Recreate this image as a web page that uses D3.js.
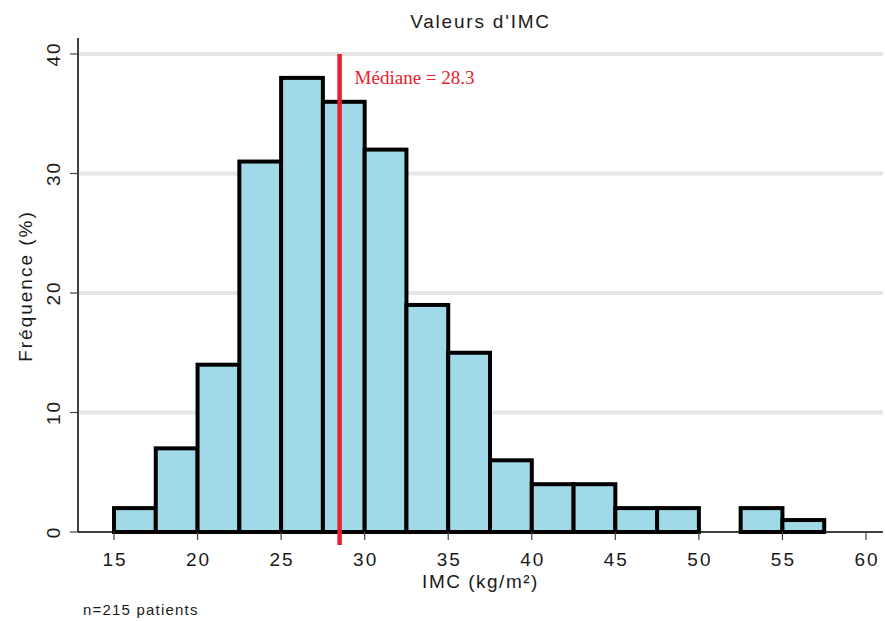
<!DOCTYPE html>
<html>
<head>
<meta charset="utf-8">
<title>Valeurs d'IMC</title>
<script src="https://cdn.jsdelivr.net/npm/d3@7"></script>
<style>
    body { margin: 0; background: #fff; }
    svg { display: block; }
    .sans { font-family: "Liberation Sans", Arial, sans-serif; fill: #1a1a1a; }
</style>
</head>
<body>
<div id="chartdiv"></div>
<script>
/*global d3 */

var binStarts = [15, 17.5, 20, 22.5, 25, 27.5, 30, 32.5, 35, 37.5, 40, 42.5,
                 45, 47.5, 50, 52.5, 55],
    binCounts = [2, 7, 14, 31, 38, 36, 32, 19, 15, 6, 4, 4, 2, 2, 0, 2, 1],
    binWidth = 2.5,
    xTicks = [15, 20, 25, 30, 35, 40, 45, 50, 55, 60],
    yTicks = [0, 10, 20, 30, 40],
    medianPos = 28.5,
    medianLabel = "Médiane = 28.3",
    titleText = "Valeurs d'IMC",
    xLabel = "IMC (kg/m²)",
    yLabel = "Fréquence (%)",
    noteText = "n=215 patients";

var app = (function () {
    "use strict";

    var chart = {},
        box = {left: 78, right: 883, top: 38, bottom: 532},
        colors = {bar: "#a0dae9", grid: "#e6e6e6", median: "#e8212c",
                  tick: "#444"};


    function makeScales () {
        chart.x = d3.scaleLinear().domain([15, 60]).range([114, 866]);
        chart.y = d3.scaleLinear().domain([0, 40]).range([box.bottom, 54]);
    }


    function drawGrid () {
        chart.svg.append("g").selectAll("line")
            .data(yTicks.filter(function (t) { return t > 0; }))
            .join("line")
            .attr("x1", box.left).attr("x2", box.right)
            .attr("y1", function (d) { return chart.y(d); })
            .attr("y2", function (d) { return chart.y(d); })
            .attr("stroke", colors.grid)
            .attr("stroke-width", 4);
    }


    function drawBars () {
        var bins = binStarts.map(function (b, i) {
            return {x0: b, x1: b + binWidth, n: binCounts[i]}; });
        chart.svg.append("g").selectAll("rect")
            .data(bins.filter(function (d) { return d.n > 0; }))
            .join("rect")
            .attr("x", function (d) { return chart.x(d.x0); })
            .attr("width", function (d) { return chart.x(d.x1) - chart.x(d.x0); })
            .attr("y", function (d) { return chart.y(d.n); })
            .attr("height", function (d) { return chart.y(0) - chart.y(d.n); })
            .attr("fill", colors.bar)
            .attr("stroke", "#000")
            .attr("stroke-width", 4);
    }


    function drawAxes () {
        var g = chart.svg.append("g");
        g.append("line")  //y axis
            .attr("x1", box.left).attr("x2", box.left)
            .attr("y1", box.top).attr("y2", box.bottom)
            .attr("stroke", "#000").attr("stroke-width", 1.5);
        g.append("line")  //x axis
            .attr("x1", box.left).attr("x2", box.right)
            .attr("y1", box.bottom).attr("y2", box.bottom)
            .attr("stroke", "#000").attr("stroke-width", 1.5);
        g.selectAll(".ytick").data(yTicks).join("line")
            .attr("class", "ytick")
            .attr("x1", box.left - 8).attr("x2", box.left)
            .attr("y1", function (d) { return chart.y(d); })
            .attr("y2", function (d) { return chart.y(d); })
            .attr("stroke", colors.tick).attr("stroke-width", 1.2);
        g.selectAll(".ylab").data(yTicks).join("text")
            .attr("class", "ylab sans")
            .attr("transform", function (d) {
                return "translate(60," + chart.y(d) + ") rotate(-90)"; })
            .attr("text-anchor", "middle")
            .attr("font-size", 19)
            .attr("letter-spacing", 2)
            .text(function (d) { return d; });
        g.selectAll(".xtick").data(xTicks).join("line")
            .attr("class", "xtick")
            .attr("x1", function (d) { return chart.x(d); })
            .attr("x2", function (d) { return chart.x(d); })
            .attr("y1", box.bottom).attr("y2", box.bottom + 8)
            .attr("stroke", colors.tick).attr("stroke-width", 1.2);
        g.selectAll(".xlab").data(xTicks).join("text")
            .attr("class", "xlab sans")
            .attr("x", function (d) { return chart.x(d) + 1; })
            .attr("y", 566)
            .attr("text-anchor", "middle")
            .attr("font-size", 19)
            .attr("letter-spacing", 2)
            .text(function (d) { return d; });
    }


    function drawMedian () {
        chart.svg.append("line")
            .attr("x1", chart.x(medianPos)).attr("x2", chart.x(medianPos))
            .attr("y1", chart.y(40)).attr("y2", chart.y(0) + 13)
            .attr("stroke", colors.median)
            .attr("stroke-width", 4.5);
        chart.svg.append("text")
            .attr("x", chart.x(medianPos) + 15)
            .attr("y", chart.y(40) + 30)
            .attr("font-family", "'Liberation Serif', 'Times New Roman', serif")
            .attr("font-size", 19)
            .attr("fill", colors.median)
            .text(medianLabel);
    }


    function drawLabels () {
        var cx = (box.left + box.right) / 2;
        chart.svg.append("text")
            .attr("class", "sans")
            .attr("x", cx).attr("y", 28)
            .attr("text-anchor", "middle")
            .attr("font-size", 19)
            .attr("letter-spacing", 1.8)
            .text(titleText);
        chart.svg.append("text")
            .attr("class", "sans")
            .attr("x", cx).attr("y", 588)
            .attr("text-anchor", "middle")
            .attr("font-size", 19)
            .attr("letter-spacing", 1.5)
            .text(xLabel);
        chart.svg.append("text")
            .attr("class", "sans")
            .attr("transform", "translate(32,286) rotate(-90)")
            .attr("text-anchor", "middle")
            .attr("font-size", 19)
            .attr("letter-spacing", 2)
            .text(yLabel);
        chart.svg.append("text")
            .attr("class", "sans")
            .attr("x", 83).attr("y", 615)
            .attr("font-size", 15)
            .attr("letter-spacing", 1.2)
            .text(noteText);
    }


    function display () {
        chart.svg = d3.select("#chartdiv").append("svg")
            .attr("width", 885)
            .attr("height", 621);
        makeScales();
        drawGrid();
        drawBars();
        drawAxes();
        drawMedian();
        drawLabels();
    }


    return {
        display: function () { display(); }
    };
}());

app.display();
</script>
</body>
</html>
